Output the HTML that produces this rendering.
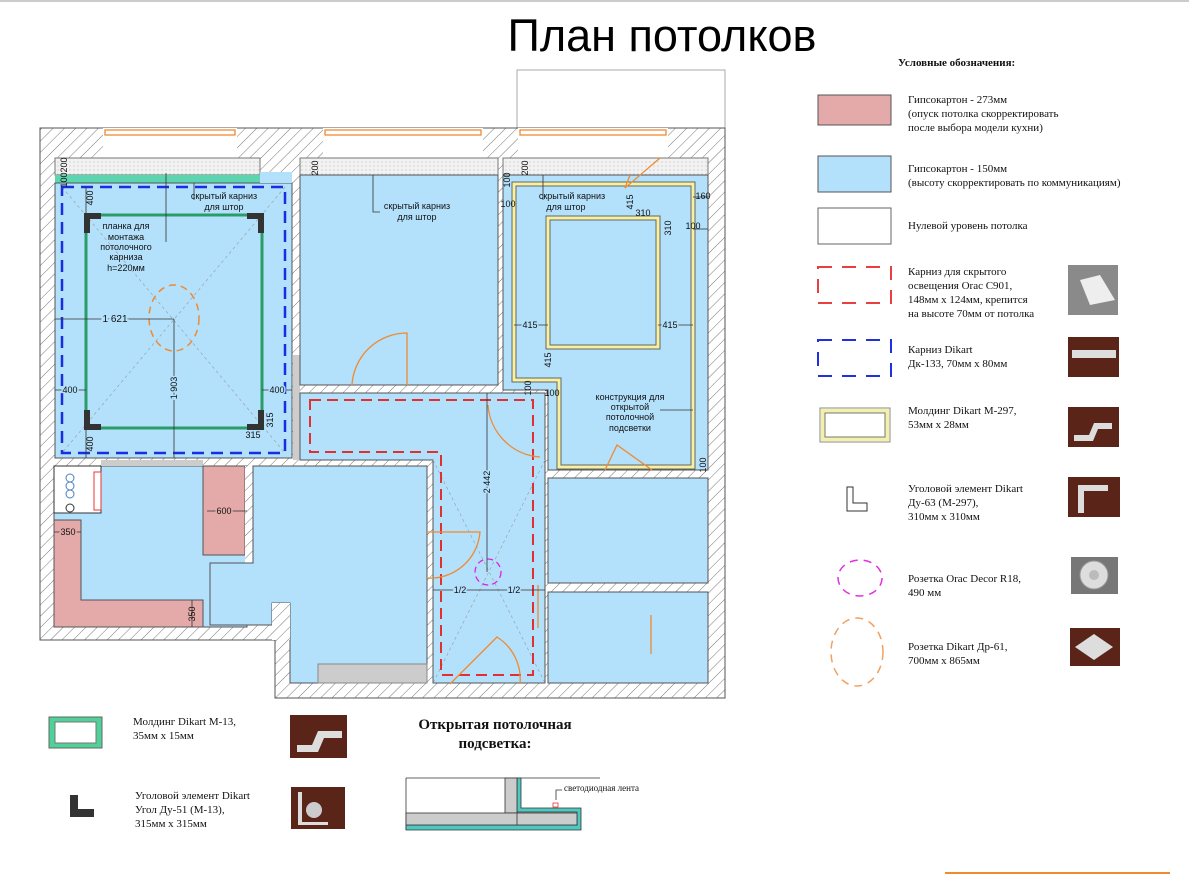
<!DOCTYPE html>
<html><head><meta charset="utf-8"><style>
html,body{margin:0;padding:0;background:#fff;}
svg{display:block;}
.s{font-family:"Liberation Sans",sans-serif;}
.r{font-family:"Liberation Serif",serif;}
</style></head><body>
<svg width="1189" height="875" viewBox="0 0 1189 875" xmlns="http://www.w3.org/2000/svg">
<defs>
<pattern id="h" width="8" height="8" patternUnits="userSpaceOnUse" patternTransform="rotate(45)">
<rect width="8" height="8" fill="#fff"/><line x1="0" y1="0" x2="0" y2="8" stroke="#777" stroke-width="1"/>
</pattern>
<pattern id="dot" width="4" height="4" patternUnits="userSpaceOnUse"><rect width="4" height="4" fill="#f2f2f2"/><circle cx="2" cy="2" r="0.6" fill="#bbb"/></pattern>
</defs>
<line x1="0" y1="1" x2="1189" y2="1" stroke="#999"/>
<text x="662" y="51" class="s" font-size="45" text-anchor="middle" fill="#000">План потолков</text>

<rect x="517" y="70" width="208" height="58" fill="none" stroke="#aaa"/>
<polygon points="40,128 725,128 725,698 275,698 275,640 40,640" fill="url(#h)" stroke="#555"/>
<rect x="103" y="128" width="134" height="30" fill="#fff"/>
<rect x="323" y="128" width="160" height="30" fill="#fff"/>
<rect x="518" y="128" width="150" height="30" fill="#fff"/>
<g stroke="#f08a30" stroke-width="1.3" fill="none">
<rect x="105" y="130" width="130" height="5"/><rect x="325" y="130" width="156" height="5"/><rect x="520" y="130" width="146" height="5"/>
</g>

<rect x="55" y="158" width="205" height="17" fill="url(#dot)" stroke="#777"/>
<rect x="55" y="175" width="205" height="8" fill="#5cd6b0"/>
<rect x="55" y="183" width="237" height="275" fill="#b3e0fb" stroke="#555"/>
<rect x="260" y="172" width="32" height="11" fill="#b3e0fb"/>
<rect x="293" y="355" width="7" height="105" fill="#ccc"/>
<rect x="300" y="158" width="198" height="17" fill="url(#dot)" stroke="#777"/>
<rect x="300" y="175" width="198" height="210" fill="#b3e0fb" stroke="#555"/>
<rect x="503" y="158" width="205" height="17" fill="url(#dot)" stroke="#777"/>
<polygon points="503,175 708,175 708,470 548,470 548,390 503,390" fill="#b3e0fb" stroke="#555"/>
<polygon points="300,393 545,393 545,683 433,683 433,460 300,460" fill="#b3e0fb" stroke="#555"/>
<rect x="54" y="466" width="193" height="161" fill="#b3e0fb" stroke="#555"/>
<rect x="54" y="466" width="47" height="47" fill="#fff" stroke="#333"/>
<g fill="none" stroke="#4a7fc0"><circle cx="70" cy="478" r="4"/><circle cx="70" cy="486" r="4"/><circle cx="70" cy="494" r="4"/></g>
<circle cx="70" cy="508" r="4" fill="none" stroke="#333"/>
<rect x="94" y="472" width="7" height="38" fill="none" stroke="#e33"/>
<rect x="101" y="460" width="102" height="6" fill="#ccc"/>
<polygon points="54,520 81,520 81,600 203,600 203,627 54,627" fill="#e4a9a9" stroke="#555"/>
<rect x="203" y="466" width="42" height="89" fill="#e4a9a9" stroke="#555"/>
<rect x="245" y="466" width="8" height="100" fill="url(#h)"/>
<polygon points="253,466 427,466 427,683 290,683 290,603 272,603 272,625 210,625 210,563 253,563" fill="#b3e0fb" stroke="#555"/>
<rect x="318" y="664" width="109" height="19" fill="#ccc" stroke="#888"/>
<rect x="272" y="603" width="18" height="37" fill="url(#h)"/>
<rect x="548" y="478" width="160" height="105" fill="#b3e0fb" stroke="#555"/>
<rect x="548" y="592" width="160" height="91" fill="#b3e0fb" stroke="#555"/>

<g stroke="#999" stroke-width="0.6" stroke-dasharray="3,3">
<line x1="62" y1="187" x2="285" y2="453"/><line x1="285" y1="187" x2="62" y2="453"/>
<line x1="433" y1="460" x2="545" y2="683"/><line x1="545" y1="460" x2="433" y2="683"/>
</g>

<rect x="62" y="187" width="223" height="266" fill="none" stroke="#1a2ee0" stroke-width="2.5" stroke-dasharray="12,7"/>
<rect x="86" y="215" width="176" height="213" fill="none" stroke="#2a9c6a" stroke-width="3"/>
<g fill="#333">
<path d="M84,213h17v6h-11v14h-6z"/><path d="M264,213h-17v6h11v14h6z"/>
<path d="M84,430h17v-6h-11v-14h-6z"/><path d="M264,430h-17v-6h11v-14h6z"/>
</g>
<ellipse cx="174" cy="318" rx="25" ry="33" fill="none" stroke="#f08a30" stroke-width="1.5" stroke-dasharray="7,5"/>
<polygon points="514,184 693,184 693,467 559,467 559,380 514,380" fill="none" stroke="#666" stroke-width="5"/>
<polygon points="514,184 693,184 693,467 559,467 559,380 514,380" fill="none" stroke="#f6f0a0" stroke-width="3"/>
<rect x="548" y="218" width="110" height="129" fill="none" stroke="#666" stroke-width="5"/>
<rect x="548" y="218" width="110" height="129" fill="none" stroke="#f6f0a0" stroke-width="3"/>
<polygon points="310,400 533,400 533,675 441,675 441,452 310,452" fill="none" stroke="#e03030" stroke-width="2" stroke-dasharray="11,6"/>
<ellipse cx="488" cy="572" rx="13" ry="13" fill="none" stroke="#e020e0" stroke-width="1.3" stroke-dasharray="6,4"/>

<g fill="none" stroke="#f08a30" stroke-width="1.3">
<path d="M352,385 A55,55 0 0 1 407,333 V385"/>
<path d="M488,405 A56,56 0 0 0 540,457"/>
<path d="M427,532 H480 A50,50 0 0 1 427,578"/>
<path d="M450,684 L497,637 A50,50 0 0 1 520,684"/>
<path d="M605,470 L617,445 L652,470"/>
<path d="M630,175 L625,188 L660,158"/>
<line x1="538" y1="585" x2="538" y2="628"/>
<line x1="651" y1="615" x2="651" y2="654"/>
</g>

<g stroke="#333" stroke-width="0.8" fill="none">
<line x1="55" y1="319" x2="174" y2="319"/><line x1="174" y1="319" x2="174" y2="458"/>
<line x1="55" y1="390" x2="86" y2="390"/><line x1="262" y1="390" x2="292" y2="390"/>
<line x1="86" y1="186" x2="86" y2="213"/><line x1="86" y1="430" x2="86" y2="458"/>
<line x1="487" y1="393" x2="487" y2="572"/><line x1="433" y1="590" x2="545" y2="590"/>
<line x1="207" y1="511" x2="247" y2="511"/><line x1="54" y1="532" x2="81" y2="532"/>
<line x1="192" y1="600" x2="192" y2="627"/>
<line x1="514" y1="325" x2="548" y2="325"/><line x1="658" y1="325" x2="693" y2="325"/>
<polyline points="166,242 166,173"/><polyline points="194,200 194,183"/>
<polyline points="373,175 373,212 380,212"/><polyline points="543,175 543,200"/>
<line x1="660" y1="410" x2="693" y2="410"/>
<line x1="693" y1="197" x2="708" y2="197"/><line x1="693" y1="229" x2="708" y2="229"/>
</g>
<g class="s" font-size="9" fill="#111">
<text x="115" y="322" text-anchor="middle" font-size="10" fill="#111" style="paint-order:stroke" stroke="#b3e0fb" stroke-width="4">1 621</text>
<text x="70" y="393" text-anchor="middle" stroke="#b3e0fb" stroke-width="3" style="paint-order:stroke">400</text>
<text x="277" y="393" text-anchor="middle" stroke="#b3e0fb" stroke-width="3" style="paint-order:stroke">400</text>
<text x="253" y="438" text-anchor="middle">315</text>
<text transform="translate(273,420) rotate(-90)" text-anchor="middle">315</text>
<text transform="translate(93,198) rotate(-90)" text-anchor="middle">400</text>
<text transform="translate(93,444) rotate(-90)" text-anchor="middle">400</text>
<text transform="translate(177,388) rotate(-90)" text-anchor="middle" stroke="#b3e0fb" stroke-width="3" style="paint-order:stroke">1 903</text>
<text transform="translate(67,165) rotate(-90)" text-anchor="middle">200</text>
<text transform="translate(67,180) rotate(-90)" text-anchor="middle">100</text>
<text transform="translate(318,168) rotate(-90)" text-anchor="middle">200</text>
<text transform="translate(528,168) rotate(-90)" text-anchor="middle">200</text>
<text transform="translate(510,180) rotate(-90)" text-anchor="middle">100</text>
<text x="508" y="207" text-anchor="middle">100</text>
<text x="224" y="199" text-anchor="middle">скрытый карниз</text>
<text x="224" y="210" text-anchor="middle">для штор</text>
<text x="417" y="209" text-anchor="middle">скрытый карниз</text>
<text x="417" y="220" text-anchor="middle">для штор</text>
<text x="572" y="199" text-anchor="middle">скрытый карниз</text>
<text x="566" y="210" text-anchor="middle">для штор</text>
<text x="126" y="229" text-anchor="middle">планка для</text>
<text x="126" y="240" text-anchor="middle">монтажа</text>
<text x="126" y="250" text-anchor="middle">потолочного</text>
<text x="126" y="260" text-anchor="middle">карниза</text>
<text x="126" y="271" text-anchor="middle">h=220мм</text>
<text x="530" y="328" text-anchor="middle" stroke="#b3e0fb" stroke-width="3" style="paint-order:stroke">415</text>
<text x="670" y="328" text-anchor="middle" stroke="#b3e0fb" stroke-width="3" style="paint-order:stroke">415</text>
<text x="643" y="216" text-anchor="middle">310</text>
<text transform="translate(671,228) rotate(-90)" text-anchor="middle">310</text>
<text transform="translate(633,202) rotate(-90)" text-anchor="middle">415</text>
<text transform="translate(551,360) rotate(-90)" text-anchor="middle">415</text>
<text transform="translate(531,388) rotate(-90)" text-anchor="middle">100</text>
<text x="552" y="396" text-anchor="middle">100</text>
<text x="703" y="199" text-anchor="middle">160</text>
<text x="693" y="229" text-anchor="middle">100</text>
<text transform="translate(706,465) rotate(-90)" text-anchor="middle">100</text>
<text x="630" y="400" text-anchor="middle">конструкция для</text>
<text x="630" y="410" text-anchor="middle">открытой</text>
<text x="630" y="420" text-anchor="middle">потолочной</text>
<text x="630" y="431" text-anchor="middle">подсветки</text>
<text transform="translate(490,482) rotate(-90)" text-anchor="middle" stroke="#b3e0fb" stroke-width="3" style="paint-order:stroke">2 442</text>
<text x="460" y="593" text-anchor="middle" stroke="#b3e0fb" stroke-width="3" style="paint-order:stroke">1/2</text>
<text x="514" y="593" text-anchor="middle" stroke="#b3e0fb" stroke-width="3" style="paint-order:stroke">1/2</text>
<text x="224" y="514" text-anchor="middle" stroke="#e4a9a9" stroke-width="3" style="paint-order:stroke">600</text>
<text x="68" y="535" text-anchor="middle" stroke="#e4a9a9" stroke-width="3" style="paint-order:stroke">350</text>
<text transform="translate(195,614) rotate(-90)" text-anchor="middle">350</text>
</g>

<g class="r" font-size="11" fill="#111">
<text x="898" y="66" font-weight="bold" font-size="11">Условные обозначения:</text>
<rect x="818" y="95" width="73" height="30" fill="#e4a9a9" stroke="#555"/>
<text x="908" y="103">Гипсокартон - 273мм</text>
<text x="908" y="117">(опуск потолка скорректировать</text>
<text x="908" y="131">после выбора модели кухни)</text>
<rect x="818" y="156" width="73" height="36" fill="#b3e0fb" stroke="#555"/>
<text x="908" y="172">Гипсокартон - 150мм</text>
<text x="908" y="186">(высоту скорректировать по коммуникациям)</text>
<rect x="818" y="208" width="73" height="36" fill="#fff" stroke="#666"/>
<text x="908" y="229">Нулевой уровень потолка</text>
<rect x="818" y="267" width="73" height="36" fill="none" stroke="#e84040" stroke-width="2" stroke-dasharray="14,10"/>
<text x="908" y="275">Карниз для скрытого</text>
<text x="908" y="289">освещения Orac C901,</text>
<text x="908" y="303">148мм х 124мм, крепится</text>
<text x="908" y="317">на высоте 70мм от потолка</text>
<rect x="1068" y="265" width="50" height="50" fill="#8a8a8a"/>
<path d="M1080,280 L1100,275 L1115,300 L1090,305 Z" fill="#eee"/>
<rect x="818" y="340" width="73" height="36" fill="none" stroke="#2030e0" stroke-width="2" stroke-dasharray="14,10"/>
<text x="908" y="353">Карниз Dikart</text>
<text x="908" y="367">Дк-133, 70мм х 80мм</text>
<rect x="1068" y="337" width="51" height="40" fill="#5a2418"/>
<rect x="1072" y="350" width="44" height="8" fill="#ddd"/>
<rect x="820" y="408" width="70" height="34" fill="#fff" stroke="#888" stroke-width="1"/>
<rect x="823" y="411" width="64" height="28" fill="none" stroke="#f3f0a8" stroke-width="4"/>
<rect x="825" y="413" width="60" height="24" fill="#fff" stroke="#777"/>
<text x="908" y="414">Молдинг Dikart M-297,</text>
<text x="908" y="428">53мм х 28мм</text>
<rect x="1068" y="407" width="51" height="40" fill="#5a2418"/>
<path d="M1074,435 h15 l5,-12 h18 v6 h-14 l-5,12 h-19z" fill="#ddd"/>
<path d="M847,487 h6 v16 h14 v8 h-20 z" fill="#fff" stroke="#333"/>
<text x="908" y="492">Уголовой элемент Dikart</text>
<text x="908" y="506">Ду-63 (М-297),</text>
<text x="908" y="520">310мм х 310мм</text>
<rect x="1068" y="477" width="52" height="40" fill="#5a2418"/>
<path d="M1078,485 h30 v6 h-24 v22 h-6z" fill="#ddd"/>
<ellipse cx="860" cy="578" rx="22" ry="18" fill="none" stroke="#e030e0" stroke-width="1.5" stroke-dasharray="8,6"/>
<text x="908" y="582">Розетка Orac Decor R18,</text>
<text x="908" y="596">490 мм</text>
<rect x="1071" y="557" width="47" height="37" fill="#777"/>
<circle cx="1094" cy="575" r="14" fill="#ddd" stroke="#999"/><circle cx="1094" cy="575" r="5" fill="#bbb"/>
<ellipse cx="857" cy="652" rx="26" ry="34" fill="none" stroke="#f0a060" stroke-width="1.5" stroke-dasharray="8,6"/>
<text x="908" y="650">Розетка Dikart Др-61,</text>
<text x="908" y="664">700мм х 865мм</text>
<rect x="1070" y="628" width="50" height="38" fill="#5a2418"/>
<path d="M1075,647 L1094,634 L1113,647 L1094,660 Z" fill="#ddd"/>
</g>

<g class="r" font-size="11" fill="#111">
<rect x="49" y="717" width="53" height="31" fill="#4fd199" stroke="#666"/>
<rect x="55" y="722" width="41" height="21" fill="#fff" stroke="#777"/>
<text x="133" y="725">Молдинг Dikart M-13,</text>
<text x="133" y="739">35мм х 15мм</text>
<rect x="290" y="715" width="57" height="43" fill="#5a2418"/>
<path d="M297,745 h15 l6,-14 h24 v7 h-18 l-6,14 h-21z" fill="#ddd"/>
<path d="M70,795 h8 v14 h16 v8 h-24z" fill="#333"/>
<text x="135" y="799">Уголовой элемент Dikart</text>
<text x="135" y="813">Угол Ду-51 (М-13),</text>
<text x="135" y="827">315мм х 315мм</text>
<rect x="291" y="787" width="54" height="42" fill="#5a2418"/>
<path d="M298,792 h4 v30 h26 v3 h-30z" fill="#ddd"/><circle cx="314" cy="810" r="8" fill="#ccc"/>
<text x="495" y="729" text-anchor="middle" font-weight="bold" font-size="15">Открытая потолочная</text>
<text x="495" y="748" text-anchor="middle" font-weight="bold" font-size="15">подсветка:</text>
</g>
<g stroke="#333" stroke-width="0.8">
<line x1="406" y1="778" x2="600" y2="778"/>
<line x1="406" y1="778" x2="406" y2="830"/>
<polygon points="517,778 521,778 521,808 581,808 581,830 406,830 406,825 577,825 577,812 517,812" fill="#50c8c0"/>
<rect x="505" y="778" width="12" height="35" fill="#ccc"/>
<rect x="406" y="813" width="171" height="12" fill="#ccc"/>
<line x1="517" y1="813" x2="517" y2="825"/>
<rect x="553" y="803" width="5" height="4" fill="#fff" stroke="#e33"/>
<polyline points="556,800 556,790 562,790" fill="none"/>
</g>
<text x="564" y="791" class="r" font-size="9" fill="#111">светодиодная лента</text>
<line x1="945" y1="873" x2="1170" y2="873" stroke="#f08a30" stroke-width="2"/>
</svg>
</body></html>
